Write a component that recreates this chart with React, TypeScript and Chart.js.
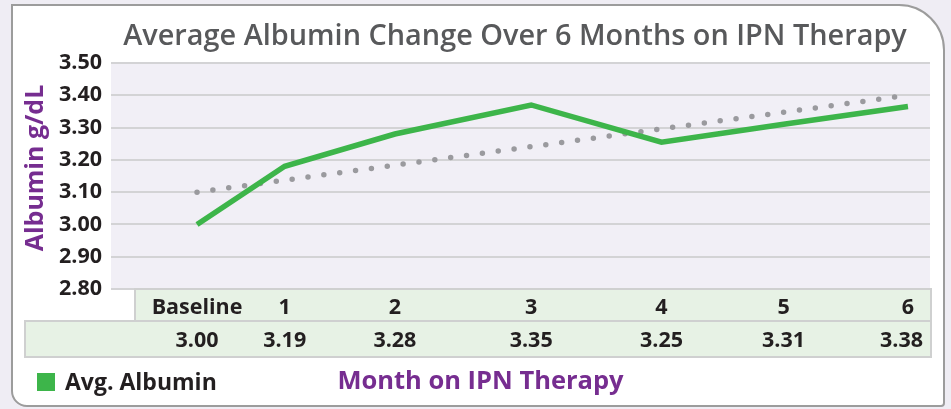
import React, { useEffect, useRef } from "react";
import { Chart, registerables } from "chart.js";

Chart.register(...registerables);

// ---- data ----
const categories = ["Baseline", "1", "2", "3", "4", "5", "6"];
// horizontal placement of each reading along the month axis (as drawn)
const monthPositions = [0, 0.74, 1.67, 2.82, 3.92, 4.95, 6.0];
// plotted line values
const albuminPlotted = [3.0, 3.18, 3.28, 3.37, 3.255, 3.31, 3.365];
// values printed in the data table
const albuminTable = [3.0, 3.19, 3.28, 3.35, 3.25, 3.31, 3.38];
// dotted linear trend line end points
const trendPositions = [0, 6];
const trendValues = [3.1, 3.4];
// y axis
const yMin = 2.8;
const yMax = 3.5;
const yStep = 0.1;

const TITLE = "Average Albumin Change Over 6 Months on IPN Therapy";
const Y_TITLE = "Albumin g/dL";
const X_TITLE = "Month on IPN Therapy";
const LEGEND = "Avg. Albumin";

const FONT = '"Open Sans", "Noto Sans", sans-serif';
const GREEN = "#3db54a";
const PURPLE = "#762d90";
const DARK = "#231f20";

function fitFont(ctx: CanvasRenderingContext2D, text: string, weight: string, target: number) {
  ctx.font = `${weight} 100px ${FONT}`;
  const w = ctx.measureText(text).width;
  const size = (100 * target) / w;
  ctx.font = `${weight} ${size}px ${FONT}`;
}

export default function App() {
  const ref = useRef<HTMLCanvasElement>(null);

  useEffect(() => {
    const canvas = ref.current!;

    const decor = {
      id: "decor",
      beforeDraw(chart: any) {
        const { ctx, chartArea: a } = chart;
        ctx.save();
        ctx.fillStyle = "#f1eff6";
        ctx.fillRect(a.left, a.top, a.right - a.left, a.bottom - a.top);
        ctx.restore();
      },
      afterDraw(chart: any) {
        const { ctx, chartArea: a } = chart;
        const xs = chart.scales.x;
        ctx.save();

        // title
        ctx.fillStyle = "#58595b";
        fitFont(ctx, TITLE, "600", 784);
        ctx.textAlign = "center";
        ctx.textBaseline = "alphabetic";
        ctx.fillText(TITLE, 515, 44.5);

        // y axis title
        ctx.save();
        ctx.translate(42.5, 168);
        ctx.rotate(-Math.PI / 2);
        ctx.fillStyle = PURPLE;
        ctx.font = `bold 25px ${FONT}`;
        ctx.textAlign = "center";
        ctx.fillText(Y_TITLE, 0, 0);
        ctx.restore();

        // data table
        const r1Top = a.bottom;
        const r1Bot = a.bottom + 32;
        const r2Bot = r1Bot + 36;
        const r1Left = a.left + 24;
        const r2Left = 25;
        const tRight = a.right + 1;
        ctx.fillStyle = "#e7f2e5";
        ctx.fillRect(r1Left, r1Top, tRight - r1Left, r1Bot - r1Top);
        ctx.fillRect(r2Left, r1Bot, tRight - r2Left, r2Bot - r1Bot);
        ctx.strokeStyle = "#cfd0d0";
        ctx.lineWidth = 2;
        ctx.strokeRect(r1Left, r1Top, tRight - r1Left, r1Bot - r1Top);
        ctx.strokeRect(r2Left, r1Bot, tRight - r2Left, r2Bot - r1Bot);

        ctx.fillStyle = DARK;
        ctx.font = `bold 21.5px ${FONT}`;
        ctx.textAlign = "center";
        categories.forEach((c, i) => {
          const px = xs.getPixelForValue(monthPositions[i]);
          const w = ctx.measureText(c).width;
          const x = Math.min(px, tRight - 8 - w / 2);
          ctx.fillText(c, x, r1Top + 25);
        });
        albuminTable.forEach((v, i) => {
          const t = v.toFixed(2);
          const px = xs.getPixelForValue(monthPositions[i]);
          const w = ctx.measureText(t).width;
          const x = Math.min(px, tRight - 8 - w / 2);
          ctx.fillText(t, x, r1Bot + 25.5);
        });

        // legend
        ctx.fillStyle = GREEN;
        ctx.fillRect(37, 373, 18, 18);
        ctx.fillStyle = DARK;
        ctx.font = `bold 23px ${FONT}`;
        ctx.textAlign = "left";
        ctx.fillText(LEGEND, 65, 389.5);

        // x axis title
        ctx.fillStyle = PURPLE;
        ctx.font = `bold 25.5px ${FONT}`;
        ctx.textAlign = "center";
        ctx.fillText(X_TITLE, 480.5, 388.5);

        ctx.restore();
      },
    };

    const chart = new Chart(canvas, {
      type: "line",
      data: {
        datasets: [
          {
            label: "Trend",
            data: trendPositions.map((x, i) => ({ x, y: trendValues[i] })),
            borderColor: "#9a9a9e",
            borderWidth: 5.5,
            borderDash: [0, 16],
            borderCapStyle: "round",
            pointRadius: 0,
            fill: false,
            order: 2,
          },
          {
            label: LEGEND,
            data: monthPositions.map((x, i) => ({ x, y: albuminPlotted[i] })),
            borderColor: GREEN,
            borderWidth: 5.5,
            borderJoinStyle: "miter",
            pointRadius: 0,
            fill: false,
            tension: 0,
            order: 1,
          },
        ],
      },
      options: {
        responsive: false,
        animation: false,
        layout: { padding: { left: 0, top: 63, right: 21, bottom: 120 } },
        plugins: {
          legend: { display: false },
          title: { display: false },
          tooltip: { enabled: false },
        },
        scales: {
          x: {
            type: "linear",
            display: false,
            min: -0.726,
            max: 6.186,
          },
          y: {
            min: yMin,
            max: yMax,
            afterFit: (s: any) => {
              s.width = 111;
            },
            border: { display: false },
            grid: { color: "#d3d3d5", lineWidth: 2, drawTicks: false },
            ticks: {
              stepSize: yStep,
              padding: 9,
              color: DARK,
              font: { family: FONT, size: 21.5, weight: "bold" },
              callback: (v: any) => Number(v).toFixed(2),
            },
          },
        },
      },
      plugins: [decor],
    });
    return () => chart.destroy();
  }, []);

  return (
    <div
      style={{
        position: "fixed",
        left: 0,
        top: 0,
        width: 951,
        height: 409,
        background: "#efedf4",
        overflow: "hidden",
      }}
    >
      <div
        style={{
          position: "absolute",
          left: 11,
          top: 4,
          width: 930,
          height: 399,
          background: "#ffffff",
          border: "2px solid #9c9c9c",
          borderRadius: "0 46px 4px 16px",
        }}
      />
      <canvas
        ref={ref}
        width={951}
        height={409}
        style={{ position: "absolute", left: 0, top: 0, width: 951, height: 409 }}
      />
    </div>
  );
}
